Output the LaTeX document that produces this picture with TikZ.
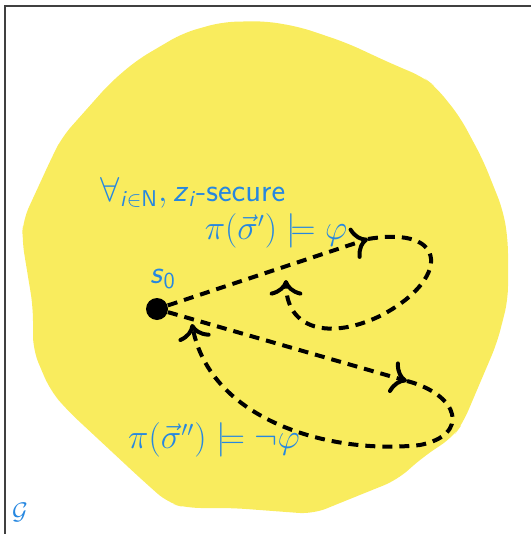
\documentclass[tikz,border=0pt]{standalone}
\usepackage{amsmath,amssymb}
\usetikzlibrary{arrows.meta}
\newcommand{\sfv}[1]{\textsf{\textit{#1}}}
\definecolor{gameyellow}{RGB}{249,236,94}
\definecolor{gameblue}{RGB}{38,135,224}

\tikzset{
  dotnode/.style={circle, fill=black, inner sep=0pt, minimum size=11pt},
  runline/.style={line width=2pt, dash pattern=on 5pt off 3.5pt, -{To[scale=1.3]}},
  bluetext/.style={text=gameblue, font=\fontsize{16.3}{19}\selectfont\sffamily, inner sep=0pt}
}

\begin{document}
\begin{tikzpicture}[x=0.5pt, y=-0.5pt]
  \useasboundingbox (0,0) rectangle (531,534);
  % the game region
  \fill[gameyellow, rounded corners=7pt]
    (265,21) -- (300,27) -- (347,43) -- (390,63) -- (423,77) -- (436,87)
    -- (460,117) -- (483,160) -- (503,210) -- (508,240) -- (508,300)
    -- (497,343) -- (477,390) -- (463,423) -- (453,437) -- (423,457)
    -- (397,480) -- (340,503) -- (313,514) -- (233,508) -- (187,508)
    -- (168,503) -- (140,478) -- (67,410) -- (50,390) -- (33,350)
    -- (33,307) -- (22,240) -- (23,220) -- (52,157) -- (62,137)
    -- (110,83) -- (137,60) -- (183,33) -- (222,22) -- cycle;
  \draw[black!75, line width=0.7pt] (5,534) -- (5,6) -- (531,6);

  \node[dotnode, label={[bluetext, xshift=3pt, yshift=4pt]above:$\sfv{s}_{\textsf{0}}$}] (s0) at (157,309) {};
  \coordinate (a1) at (368,239);
  \coordinate (b1) at (286,280);
  \coordinate (a2) at (407,381);
  \coordinate (b2) at (192,324);

  \draw[runline] (s0) -- (a1);
  \draw[runline] (a1) .. controls (450,225) and (450,280) .. (380,316)
    .. controls (330,340) and (286,330) .. (b1);
  \draw[runline] (s0) -- (a2);
  \draw[runline] (a2) .. controls (460,395) and (470,435) .. (420,445)
    .. controls (330,455) and (210,420) .. (b2);

  \node[bluetext] (secure) at (193,193)
    {$\forall_{\sfv{i}\in\textsf{N}},\sfv{z}_{\sfv{i}}$-secure};
  \node[bluetext] (good) at (276,231) {$\pi(\vec{\sigma}')\models\varphi$};
  \node[bluetext] (bad) at (214,440) {$\pi(\vec{\sigma}'')\models\neg\varphi$};
  \node[text=gameblue, font=\large] (game) at (20,512) {$\mathcal{G}$};
\end{tikzpicture}
\end{document}
